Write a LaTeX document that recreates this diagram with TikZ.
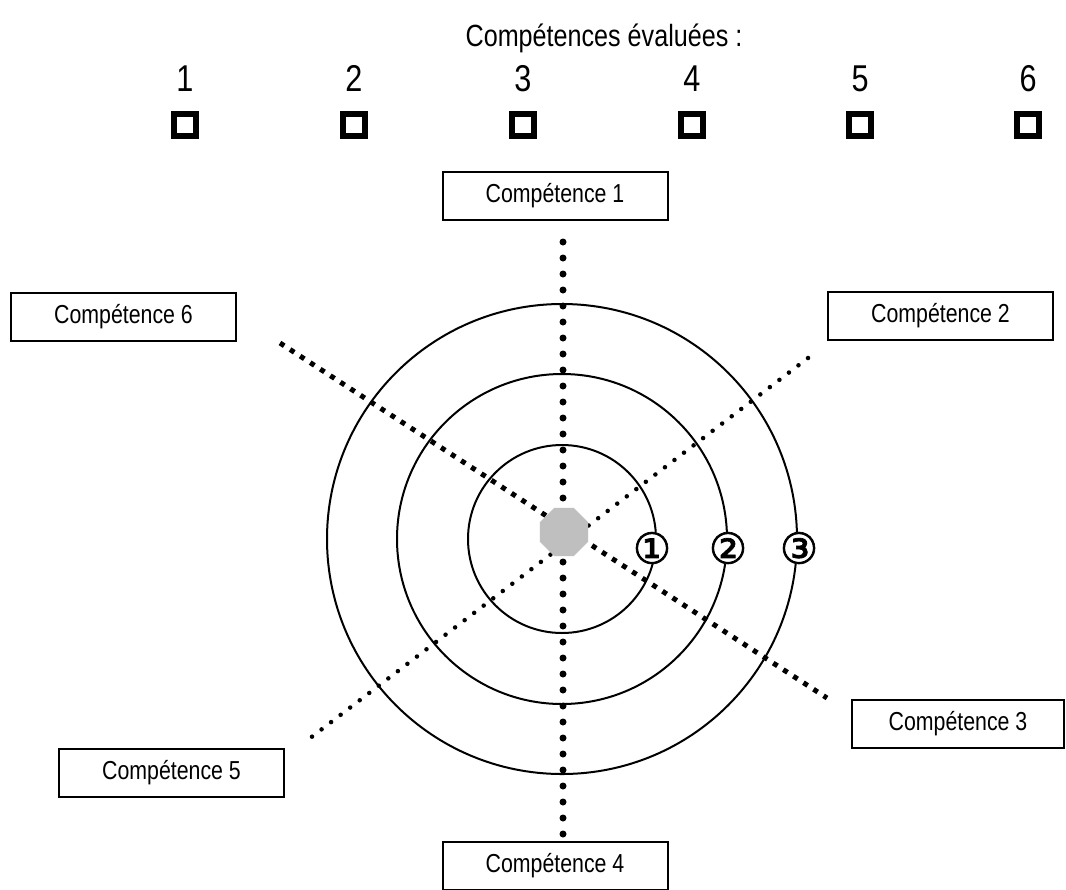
\documentclass[tikz,border=0pt]{standalone}
\usepackage{fontspec}
\setmainfont{Liberation Sans}[FakeStretch=0.82]
\newfontfamily\dejavu{DejaVu Sans}[FakeBold=1.6]
\usetikzlibrary{shapes.geometric}
\begin{document}
\begin{tikzpicture}[x=0.75pt,y=-0.75pt,
  compbox/.style={draw,line width=1.5pt,minimum width=168.75pt,minimum height=36pt,inner sep=0pt,font=\fontsize{19.5pt}{22pt}\selectfont},
  chk/.style={draw,line width=4pt,minimum size=16.5pt,inner sep=0pt},
  digit/.style={anchor=base,font=\fontsize{28pt}{30pt}\selectfont},
  ring/.style={line width=1.5pt},
  rnum/.style={fill=white,inner sep=0pt,font=\dejavu\fontsize{32pt}{32pt}\selectfont},
  vdots/.style={line width=5.25pt,line cap=round,dash pattern=on 0pt off 12pt},
  sqdots/.style={line width=3.75pt,dash pattern=on 3.75pt off 5.25pt},
  rdots/.style={line width=3.4pt,line cap=round,dash pattern=on 0pt off 9pt}]
\useasboundingbox (0,0) rectangle (1066,889);
\fill[white] (0,0) rectangle (1066,889);

% header
\node[anchor=base,font=\fontsize{23pt}{26pt}\selectfont] (title) at (604,46) {Compétences évaluées :};
\foreach \i/\x in {1/185,2/354,3/523,4/692,5/860,6/1028}{
  \node[digit] (d\i) at (\x,91) {\i};
  \node[chk] (c\i) at (\x,125) {};
}

% rings
\draw[ring] (562,539) circle[radius=70.5pt];
\draw[ring] (562,539) circle[radius=123.75pt];
\draw[ring] (562,539) circle[radius=176.25pt];

% boxes
\node[compbox] (k1) at (555,196) {Compétence 1};
\node[compbox] (k2) at (940.5,316) {Compétence 2};
\node[compbox,minimum width=159pt] (k3) at (958,723.5) {Compétence 3};
\node[compbox] (k4) at (555,866) {Compétence 4};
\node[compbox] (k5) at (171.5,772.5) {Compétence 5};
\node[compbox] (k6) at (123.5,316.5) {Compétence 6};

% axis ends
\coordinate (a1) at (563,242);
\coordinate (a4) at (563,838);
\coordinate (a6) at (280,343);
\coordinate (a3) at (827,698);
\coordinate (a2) at (808,358);
\coordinate (a5) at (305,742);

\draw[vdots] (a1) -- (a4);
\draw[sqdots] (a6) -- (a3);
\draw[rdots] (a2) -- (a5);

% centre
\node[regular polygon,regular polygon sides=8,minimum size=39pt,fill=gray!50,inner sep=0pt] (ctr) at (564,532) {};

% ring numbers
\node[rnum] (n1) at (652,548) {①};
\node[rnum] (n2) at (728,548) {②};
\node[rnum] (n3) at (799,548) {③};
\end{tikzpicture}
\end{document}
